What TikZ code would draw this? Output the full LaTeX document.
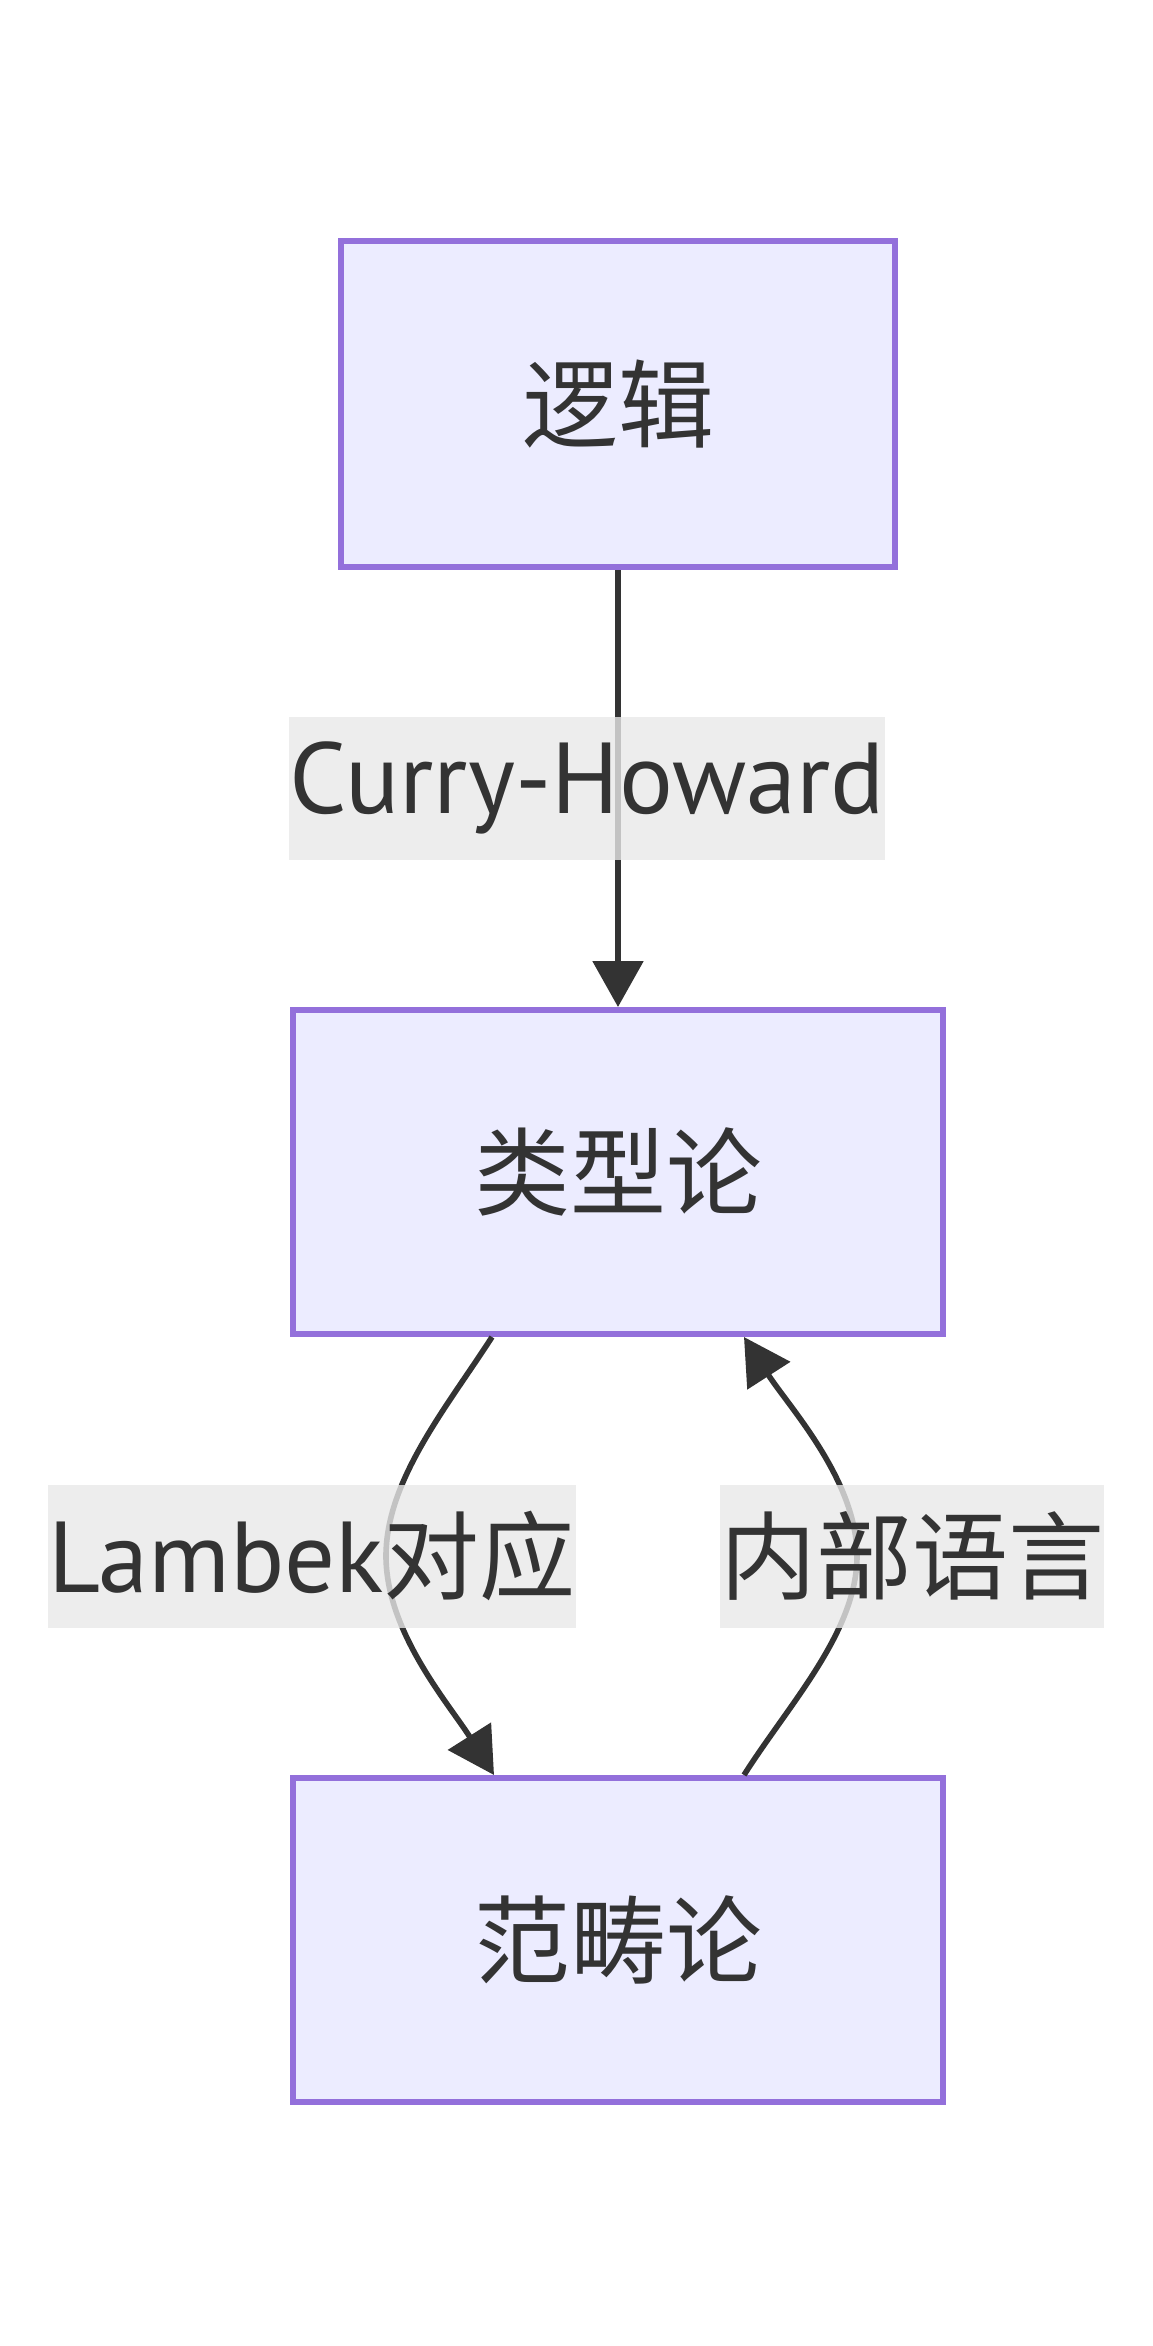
\documentclass[tikz,border=0pt]{standalone}
\usepackage{fontspec}
\setmainfont{PT Sans}[Scale=1.05]
\newfontfamily\cjk{Noto Sans CJK SC}
\usetikzlibrary{arrows.meta,positioning}

\definecolor{boxline}{HTML}{9370DB}
\definecolor{boxfill}{HTML}{ECECFF}
\definecolor{edgeline}{HTML}{333333}
\definecolor{labelbg}{HTML}{E8E8E8}

\begin{document}
\begin{tikzpicture}[x=0.5pt, y=-0.5pt,
    font=\fontsize{48pt}{72pt}\selectfont,
    topic/.style={draw=boxline, fill=boxfill, line width=3pt,
                  text=edgeline, inner sep=0pt},
    link/.style={draw=edgeline, line width=2.8pt,
                 -{Triangle[length=23pt, width=25pt]}},
    tag/.style={fill=labelbg, fill opacity=0.8, text opacity=1,
                text=edgeline, inner xsep=0pt, inner ysep=0pt,
                minimum height=71.5pt}]

  \useasboundingbox (0,0) rectangle (1152,2346);

  %--- Topics
  \node[topic, minimum width=277pt, minimum height=163pt] (logic) at (618,404) {\cjk 逻辑};
  \node[topic, minimum width=325pt, minimum height=162pt] (types) at (618,1172) {\cjk 类型论};
  \node[topic, minimum width=325pt, minimum height=162pt] (cats) at (618,1940) {\cjk 范畴论};

  %--- Connections
  \draw[link] (logic.south) -- (types.north);
  \draw[link] ([xshift=-63pt]types.south)
    .. controls (447,1407) and (386,1480) .. (386,1556)
    .. controls (386,1632) and (449,1704) .. ([xshift=-62pt]cats.north);
  \draw[link] ([xshift=63pt]cats.north)
    .. controls (789,1704) and (857,1632) .. (857,1556)
    .. controls (857,1480) and (789,1407) .. ([xshift=63pt]types.south);

  %--- Edge labels
  \node[tag] (ch) at (587,788) {Curry-Howard};
  \node[tag] (lambek) at (312,1556) {Lambek{\cjk 对应}};
  \node[tag] (internal) at (912,1556) {\cjk 内部语言};

\end{tikzpicture}
\end{document}
